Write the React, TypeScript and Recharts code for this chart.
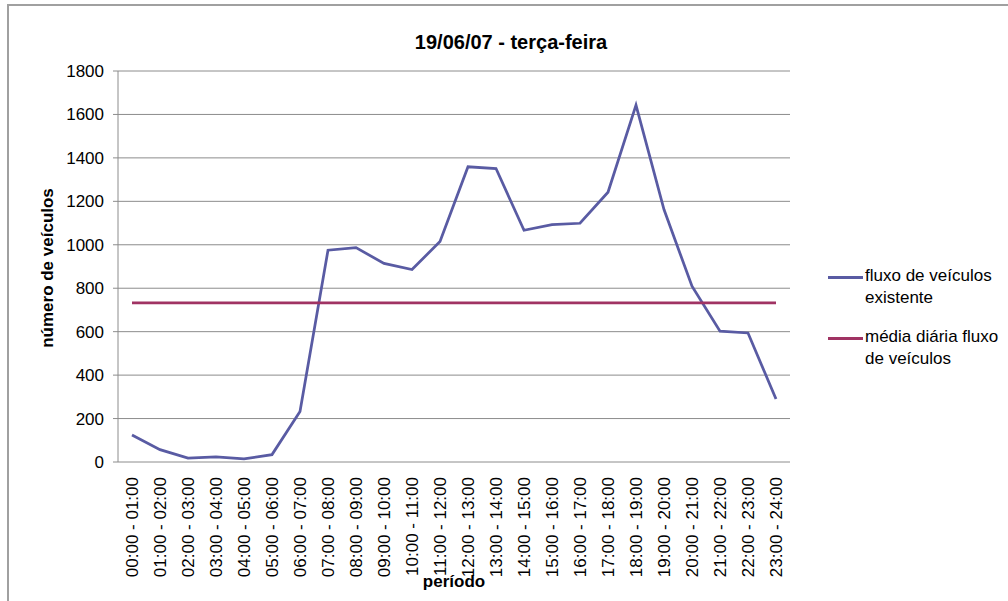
import React from 'react';
import {
  LineChart,
  Line,
  XAxis,
  YAxis,
  CartesianGrid,
  Legend,
  Label,
} from 'recharts';

const FONT = '"Liberation Sans", Arial, sans-serif';

// categories: hourly periods
const periods = [
  '00:00 - 01:00', '01:00 - 02:00', '02:00 - 03:00', '03:00 - 04:00',
  '04:00 - 05:00', '05:00 - 06:00', '06:00 - 07:00', '07:00 - 08:00',
  '08:00 - 09:00', '09:00 - 10:00', '10:00 - 11:00', '11:00 - 12:00',
  '12:00 - 13:00', '13:00 - 14:00', '14:00 - 15:00', '15:00 - 16:00',
  '16:00 - 17:00', '17:00 - 18:00', '18:00 - 19:00', '19:00 - 20:00',
  '20:00 - 21:00', '21:00 - 22:00', '22:00 - 23:00', '23:00 - 24:00',
];

const fluxo = [
  124, 57, 18, 24, 14, 34, 233, 975, 987, 914, 886, 1015,
  1359, 1351, 1067, 1093, 1099, 1242, 1643, 1162, 809, 602, 594, 290,
];

const media = [
  733, 733, 733, 733, 733, 733, 733, 733, 733, 733, 733, 733,
  733, 733, 733, 733, 733, 733, 733, 733, 733, 733, 733, 733,
];

const yTicks = [0, 200, 400, 600, 800, 1000, 1200, 1400, 1600, 1800];
// boundaries between periods, where the axis tick marks sit
const boundaryTicks = [
  0, 1, 2, 3, 4, 5, 6, 7, 8, 9, 10, 11, 12,
  13, 14, 15, 16, 17, 18, 19, 20, 21, 22, 23, 24,
];

const chartData = periods.map((p, i) => ({
  periodo: p,
  fluxo: fluxo[i],
  media: media[i],
}));

const PeriodTick = ({ x, y, payload }: any) => (
  <text
    x={x}
    y={y}
    transform={`rotate(-90, ${x}, ${y})`}
    textAnchor="end"
    dy="0.36em"
    fontSize={17}
    fontFamily={FONT}
    fill="#000"
  >
    {payload.value}
  </text>
);

const YTitle = ({ viewBox }: any) => {
  const x = viewBox.x - 5;
  const y = viewBox.y + viewBox.height / 2 + 1.5;
  return (
    <text
      x={x}
      y={y}
      transform={`rotate(-90, ${x}, ${y})`}
      textAnchor="middle"
      fontSize={17}
      fontWeight="bold"
      fontFamily={FONT}
      fill="#000"
    >
      número de veículos
    </text>
  );
};

const XTitle = ({ viewBox }: any) => (
  <text
    x={viewBox.x + viewBox.width / 2}
    y={viewBox.y + 125}
    textAnchor="middle"
    fontSize={17}
    fontWeight="bold"
    fontFamily={FONT}
    fill="#000"
  >
    período
  </text>
);

const renderLegend = ({ payload }: any) => (
  <div style={{ fontFamily: FONT, fontSize: 17, lineHeight: '22px', color: '#000' }}>
    {payload.map((entry: any) => (
      <div key={entry.value} style={{ display: 'flex', alignItems: 'flex-start', marginBottom: 17 }}>
        <div style={{ width: 35, height: 3, marginTop: 11, background: entry.color, flexShrink: 0 }} />
        <div style={{ marginLeft: 2, width: 140 }}>{entry.value}</div>
      </div>
    ))}
  </div>
);

export default function App() {
  return (
    <div style={{ position: 'absolute', left: 0, top: 0, width: 1008, height: 601, overflow: 'hidden', background: '#fff' }}>
      <div
        style={{
          position: 'absolute',
          left: 7,
          top: 4,
          width: 1100,
          height: 700,
          border: '2px solid #a0a0a0',
        }}
      />
      <LineChart
        width={1008}
        height={601}
        data={chartData}
        margin={{ top: 71, right: 218, bottom: 19, left: 58 }}
      >
        <CartesianGrid xAxisId="cat" vertical={false} stroke="#8c8c8c" strokeWidth={1} />
        <XAxis
          xAxisId="ticks"
          type="number"
          domain={[0, 24]}
          ticks={boundaryTicks}
          height={0}
          tick={false}
          tickSize={6}
          stroke="#8c8c8c"
          allowDataOverflow
        />
        <XAxis
          xAxisId="cat"
          dataKey="periodo"
          scale="band"
          interval={0}
          height={120}
          axisLine={false}
          tickLine={false}
          tickSize={6}
          tickMargin={9}
          tick={<PeriodTick />}
        >
          <Label content={<XTitle />} />
        </XAxis>
        <YAxis
          domain={[0, 1800]}
          ticks={yTicks}
          width={60}
          tickSize={5}
          tickMargin={9}
          stroke="#8c8c8c"
          tick={{ fontSize: 17, fill: '#000', fontFamily: FONT }}
        >
          <Label content={<YTitle />} />
        </YAxis>
        <Legend
          layout="vertical"
          align="center"
          verticalAlign="middle"
          wrapperStyle={{ left: 828, top: 265, width: 180 }}
          content={renderLegend}
        />
        <Line
          xAxisId="cat"
          type="linear"
          dataKey="fluxo"
          name="fluxo de veículos existente"
          stroke="#595ba3"
          strokeWidth={2.75}
          dot={false}
          isAnimationActive={false}
        />
        <Line
          xAxisId="cat"
          type="linear"
          dataKey="media"
          name="média diária fluxo de veículos"
          stroke="#a03363"
          strokeWidth={2.75}
          dot={false}
          isAnimationActive={false}
        />
      </LineChart>
      <div
        style={{
          position: 'absolute',
          left: 0,
          top: 32,
          width: 1022,
          textAlign: 'center',
          fontFamily: FONT,
          fontSize: 20,
          fontWeight: 'bold',
          lineHeight: '20px',
          color: '#000',
        }}
      >
        19/06/07 - terça-feira
      </div>
    </div>
  );
}
